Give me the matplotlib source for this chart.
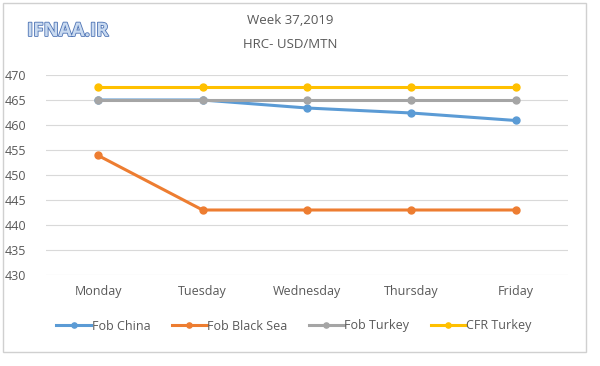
import matplotlib
matplotlib.use("Agg")
import matplotlib.pyplot as plt
from matplotlib.patches import Rectangle
import matplotlib.patheffects as pe

days = ["Monday", "Tuesday", "Wednesday", "Thursday", "Friday"]
fob_china = [465, 465, 463.4, 462.4, 460.9]
fob_black_sea = [453.9, 443, 443, 443, 443]
fob_turkey = [465, 465, 465, 465, 465]
cfr_turkey = [467.5, 467.5, 467.5, 467.5, 467.5]
yticks = [430, 435, 440, 445, 450, 455, 460, 465, 470]

plt.rcParams['font.family'] = ['Open Sans', 'DejaVu Sans']
W, H = 600, 366
fig = plt.figure(figsize=(6, 3.66), dpi=100)
fig.patches.append(Rectangle((3 / W, 1 - 352 / H), 583 / W, 349 / H, transform=fig.transFigure,
                             fill=False, edgecolor="#d0d0d0", linewidth=1))

ax = fig.add_axes([46 / W, 1 - 275 / H, (568 - 46) / W, 200 / H])
x = list(range(len(days)))
series = [
    ("Fob China", fob_china, "#5b9bd5"),
    ("Fob Black Sea", fob_black_sea, "#ed7d31"),
    ("Fob Turkey", fob_turkey, "#a5a5a5"),
    ("CFR Turkey", cfr_turkey, "#ffc000"),
]
for name, vals, c in series:
    ax.plot(x, vals, color=c, linewidth=2.2, marker="o", markersize=5, label=name)

ax.set_xlim(-0.5, 4.5)
ax.set_ylim(430, 470)
ax.set_yticks(yticks)
ax.set_xticks(x)
ax.set_xticklabels(days)
ax.grid(axis="y", color="#d9d9d9", linewidth=0.8)
ax.set_axisbelow(True)
for s in ax.spines.values():
    s.set_visible(False)
ax.tick_params(length=0, colors="#595959", labelsize=9, pad=7)
ax.tick_params(axis="y", pad=14)

fig.text(290 / W, 1 - 20 / H, "Week 37,2019", ha="center", va="center", fontsize=9.5, color="#595959")
fig.text(290 / W, 1 - 44 / H, "HRC- USD/MTN", ha="center", va="center", fontsize=9.5, color="#595959")
fig.text(27 / W, 1 - 31 / H, "IFNAA.IR", ha="left", va="center", fontsize=13.5, color="#c9daf0",
         fontweight="bold",
         path_effects=[pe.withStroke(linewidth=1.2, foreground="#4f74b5")])

leg = ax.legend(loc="center", bbox_to_anchor=(0.475, (275 - 326) / 200), ncol=4, frameon=False,
                fontsize=9, handlelength=2.8, columnspacing=1.7, handletextpad=0.05, markerscale=0.75)
for t in leg.get_texts():
    t.set_color("#595959")

fig.savefig("out.png", dpi=100)
